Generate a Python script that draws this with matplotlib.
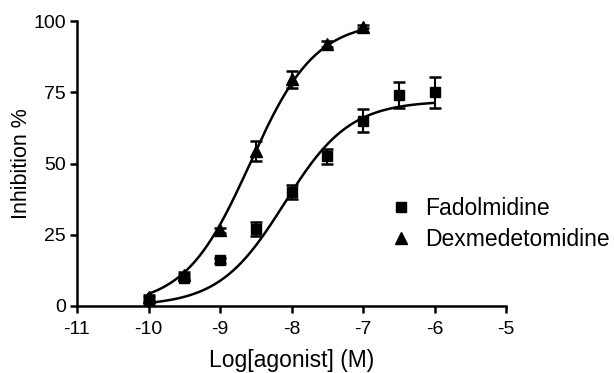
import numpy as np
import matplotlib
matplotlib.use("Agg")
import matplotlib.pyplot as plt

plt.rcParams['font.family'] = ['Liberation Sans', 'DejaVu Sans']

# Data
fado_x = [-10, -9.5, -9, -8.5, -8, -7.5, -7, -6.5, -6]
fado_y = [2, 10, 16, 27, 40, 52.5, 65, 74, 75]
fado_err = [1, 1, 1, 2.5, 2.5, 2.5, 4, 4.5, 5.5]

dex_x = [-10, -9.5, -9, -8.5, -8, -7.5, -7]
dex_y = [3, 11, 26.5, 54.5, 79.5, 92, 98]
dex_err = [1, 1, 1, 3.5, 3, 1, 0.5]

# Fitted sigmoid parameters (bottom, top, logEC50, hill)
fado_fit = (0, 72, -8.1, 0.95)
dex_fit = (0, 100, -8.58, 0.95)

xticks = [-11, -10, -9, -8, -7, -6, -5]
yticks = [0, 25, 50, 75, 100]


def sigmoid(x, p):
    b, t, c, h = p
    return b + (t - b) / (1 + 10 ** (h * (c - x)))


fig = plt.figure(figsize=(6.14, 3.73), dpi=100)
ax = fig.add_axes([77 / 614, 1 - 306 / 373, (506 - 77) / 614, (306 - 21) / 373])

xf = np.linspace(min(fado_x), max(fado_x), 200)
ax.plot(xf, sigmoid(xf, fado_fit), color='black', lw=1.8)
xd = np.linspace(min(dex_x), max(dex_x), 200)
ax.plot(xd, sigmoid(xd, dex_fit), color='black', lw=1.8)

ax.errorbar(fado_x, fado_y, yerr=fado_err, fmt='s', color='black', ms=7.5,
            capsize=4, elinewidth=1.5, capthick=1.8, label='Fadolmidine', clip_on=False)
ax.errorbar(dex_x, dex_y, yerr=dex_err, fmt='^', color='black', ms=8,
            capsize=4, elinewidth=1.5, capthick=1.8, label='Dexmedetomidine', clip_on=False)

ax.set_xlim(-11, -5)
ax.set_ylim(0, 100)
ax.set_xticks(xticks)
ax.set_xticklabels([str(t) for t in xticks])
ax.set_yticks(yticks)
ax.set_yticklabels([str(t) for t in yticks])
for s in ['top', 'right']:
    ax.spines[s].set_visible(False)
for s in ['left', 'bottom']:
    ax.spines[s].set_linewidth(1.8)
ax.tick_params(direction='out', length=5, width=1.8, labelsize=14)
ax.tick_params(axis='x', pad=6)
ax.tick_params(axis='y', pad=3)
ax.set_xlabel('Log[agonist] (M)', fontsize=16.5, labelpad=8)
ax.set_ylabel('Inhibition %', fontsize=15.5)
ax.yaxis.set_label_coords(-0.105, 0.5)

handles, labels = ax.get_legend_handles_labels()
handles = [h[0] for h in handles]
leg = ax.legend(handles, labels, loc='upper left', bbox_to_anchor=(0.713, 0.415),
                frameon=False, fontsize=16.5, handletextpad=0.65, handlelength=0.8,
                labelspacing=0.35, borderaxespad=0)

fig.savefig('out.png', dpi=100)
